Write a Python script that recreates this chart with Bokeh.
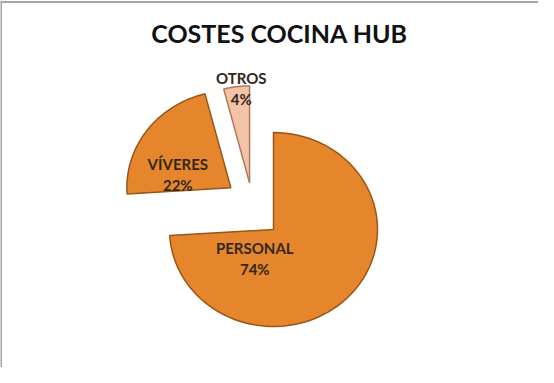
import numpy as np
from bokeh.plotting import figure
from bokeh.models import Span, ColumnDataSource
from bokeh.core.properties import value
from bokeh.embed import file_html
from bokeh.resources import INLINE

# ---- data ----
title = "COSTES COCINA HUB"
categories = ["PERSONAL", "VÍVERES", "OTROS"]
shares = [74, 22, 4]
pct_labels = ["74%", "22%", "4%"]

# ---- style / layout ----
fill_colors = ["#E5862D", "#E5862D", "#F4C2A6"]
edge_colors = ["#9C5416", "#9C5416", "#B07A5C"]
# explode offsets of each slice vertex (in radius units, x right / y up)
explode = {"PERSONAL": (0.0, 0.0), "VÍVERES": (-0.41, 0.43), "OTROS": (-0.23, 0.48)}
# label centre relative to the slice vertex (radius units)
label_off = {"PERSONAL": (-0.18, -0.30), "VÍVERES": (-0.51, 0.14), "OTROS": (-0.08, 0.97)}

W, H = 538, 367
CX, CY = 273, 229          # pie centre in figure pixels (from top-left)
SX, SY = 104.0, 97.0       # pixels per radius unit (x, y)

x_range = (-CX / SX, (W - CX) / SX)
y_range = (-(H - CY) / SY, CY / SY)

p = figure(width=W, height=H, x_range=x_range, y_range=y_range,
           output_backend="svg", toolbar_location=None,
           min_border=0, outline_line_color=None)
p.axis.visible = False
p.grid.visible = False
p.background_fill_color = "white"

total = float(sum(shares))
xs, ys, lx, ly = [], [], [], []
start = 0.0  # clockwise from 12 o'clock, degrees
for cat, v in zip(categories, shares):
    end = start + 360.0 * v / total
    th = np.radians(np.linspace(start, end, 80))
    ox, oy = explode[cat]
    px = np.concatenate([[ox], ox + np.sin(th), [ox]])
    py = np.concatenate([[oy], oy + np.cos(th), [oy]])
    xs.append(list(px))
    ys.append(list(py))
    dx, dy = label_off[cat]
    lx.append(ox + dx)
    ly.append(oy + dy)
    start = end

src = ColumnDataSource(dict(xs=xs, ys=ys, fill=fill_colors, edge=edge_colors,
                            lx=lx, ly=ly, cat=categories, pct=pct_labels))
p.patches("xs", "ys", source=src, fill_color="fill", line_color="edge",
          line_width=1.5)

font = value("Lato")
p.text("lx", "ly", text="cat", source=src, text_font=font, text_font_style="bold",
       text_font_size="15px", text_color="#33261A", text_align="center",
       text_baseline="middle", y_offset=-10.5)
p.text("lx", "ly", text="pct", source=src, text_font=font, text_font_style="bold",
       text_font_size="15px", text_color="#33261A", text_align="center",
       text_baseline="middle", y_offset=10.5)

# title
p.text(x=[(287 - 8 - CX) / SX], y=[(CY - (40.5 - 8)) / SY], text=[title],
       text_font=font, text_font_style="bold", text_font_size="25px",
       text_color="#111111", text_align="center", text_baseline="middle")

# chart-area border (left & top visible in the reference)
p.add_layout(Span(location=x_range[0], dimension="height",
                  line_color="#A6A6A6", line_width=3))
p.add_layout(Span(location=y_range[1] - 1.5 / SY, dimension="width",
                  line_color="#A6A6A6", line_width=2))

open("out.html", "w").write(file_html(p, INLINE))
